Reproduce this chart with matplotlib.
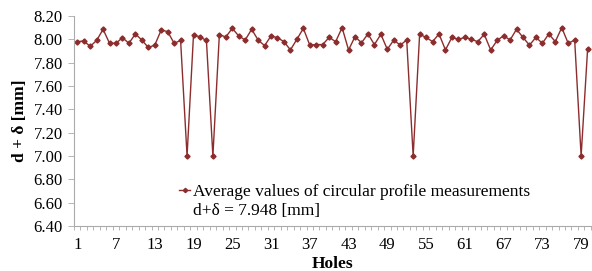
import numpy as np
import matplotlib
matplotlib.use("Agg")
import matplotlib.pyplot as plt
from matplotlib.lines import Line2D

holes = np.arange(1, 81)
diam = [7.98, 7.986, 7.94, 7.99, 8.086, 7.966, 7.966, 8.014, 7.966, 8.046,
        7.994, 7.93, 7.95, 8.08, 8.066, 7.966, 7.99, 7.00, 8.04, 8.02,
        7.99, 7.00, 8.04, 8.02, 8.094, 8.029, 7.994, 8.086, 7.994, 7.946,
        8.029, 8.014, 7.98, 7.909, 8.00, 8.094, 7.95, 7.955, 7.955, 8.017,
        7.98, 8.10, 7.909, 8.023, 7.97, 8.046, 7.955, 8.043, 7.914, 7.994,
        7.95, 7.994, 7.00, 8.043, 8.017, 7.98, 8.046, 7.909, 8.017, 8.00,
        8.017, 8.00, 7.98, 8.043, 7.909, 7.99, 8.031, 7.994, 8.086, 8.017,
        7.95, 8.017, 7.966, 8.046, 7.98, 8.10, 7.966, 7.994, 7.00, 7.914]
mean_label = "d+\u03b4 = 7.948 [mm]"
series_label = "Average values of circular profile measurements"
xtick_labels = list(range(1, 81, 6))
yticks = np.arange(6.4, 8.21, 0.2)

plt.rcParams['font.family'] = ['Liberation Serif', 'DejaVu Serif']
col = '#8c2d2d'

fig = plt.figure(figsize=(5.92, 2.71), dpi=100)
ax = fig.add_axes([0.125, 0.166, 0.873, 0.775])
ax.plot(holes, diam, color=col, lw=1.0, marker='D', ms=2.6, mfc=col, mec=col)

ax.set_xlim(0.5, 80.5)
ax.set_ylim(6.4, 8.2)
ax.set_yticks(yticks)
ax.set_yticklabels([f"{v:.2f}" for v in yticks], fontsize=12)
ax.set_xticks(xtick_labels)
ax.set_xticklabels([str(v) for v in xtick_labels], fontsize=12)
ax.set_xticks(np.arange(0.5, 81, 1), minor=True)
ax.tick_params(axis='x', which='major', length=0, pad=8)
ax.tick_params(axis='x', which='minor', length=3, width=0.6, color='#aaaaaa')
ax.tick_params(axis='y', length=4, width=0.6, color='#aaaaaa', pad=4)
for s in ['top', 'right']:
    ax.spines[s].set_visible(False)
for s in ['left', 'bottom']:
    ax.spines[s].set_color('#aaaaaa')
    ax.spines[s].set_linewidth(0.8)

ax.set_xlabel("Holes", fontsize=12.5, fontweight='bold', labelpad=2)
ax.set_ylabel("d + \u03b4 [mm]", fontsize=12.5, fontweight='bold', labelpad=4)

handles = [Line2D([], [], color=col, lw=1.0, marker='D', ms=2.2),
           Line2D([], [], color='none')]
ax.legend(handles, [series_label, mean_label], loc='lower left',
          bbox_to_anchor=(0.187, -0.01), frameon=False, fontsize=12.5,
          handlelength=0.6, handletextpad=0.2, labelspacing=0.2,
          borderpad=0)

fig.savefig("out.png", dpi=100)
